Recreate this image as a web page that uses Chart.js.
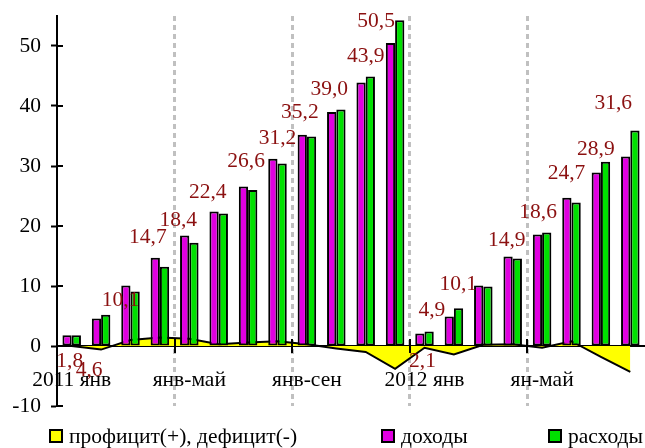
<!DOCTYPE html>
<html><head><meta charset="utf-8">
<script src="https://cdn.jsdelivr.net/npm/chart.js@4"></script>
<style>html,body{margin:0;padding:0;background:#fff;}</style>
</head><body>
<canvas id="c" width="645" height="448"></canvas>
<script>
// ---- data ----
const categories = ['2011 янв','янв-фев','янв-мар','янв-апр','янв-май','янв-июн','янв-июл','янв-авг','янв-сен','янв-окт','янв-ноя','янв-дек',
                    '2012 янв','янв-фев','янв-мар','янв-апр','ян-май','янв-июн','янв-июл','янв-авг'];
const income   = [1.8,4.6,10.1,14.7,18.4,22.4,26.6,31.2,35.2,39.0,43.9,50.5,2.1,4.9,10.1,14.9,18.6,24.7,28.9,31.6];
const expenses = [1.8,5.2,9.1,13.2,17.2,22.1,26.0,30.4,34.9,39.4,44.9,54.3,2.4,6.3,9.9,14.6,18.9,23.9,30.7,35.9];
const balance  = [0.0,-0.6,1.0,1.4,1.2,0.3,0.6,0.8,0.3,-0.4,-1.0,-3.8,-0.3,-1.4,0.2,0.3,-0.3,0.8,-1.8,-4.3];
const incomeLabels = ['1,8','4,6','10,1','14,7','18,4','22,4','26,6','31,2','35,2','39,0','43,9','50,5','2,1','4,9','10,1','14,9','18,6','24,7','28,9','31,6'];
const yTicks = [-10,0,10,20,30,40,50];
const seriesNames = ['профицит(+), дефицит(-)','доходы','расходы'];

// ---- styling / label nudges (pixels) ----
const labelNudge = [[-2,26],[-12,52],[-10,15],[-12,-20],[-11,-15],[-11,-19],[-2,-25],[0,-20],[-7,-22],[-7,-23],[0,-26],[-19,-22],
                    [-2,28],[-22,-6],[-25,-1],[-6,-16],[-4,-22],[-5,-24],[-5,-23],[-17,-53]];
const FONT = {family:'"Liberation Serif", "Times New Roman", serif', size:21.5};
const COLORS = {bal:'#ffff00', inc:'#e000e0', exp:'#00e000', label:'#8b1010'};

const extras = {
  id:'extras',
  afterDraw(chart){
    const ctx = chart.ctx, xs = chart.scales.x, ys = chart.scales.y;
    const zeroY = ys.getPixelForValue(0);
    ctx.save();
    ctx.strokeStyle = '#000'; ctx.lineWidth = 2;
    // inner half of y ticks
    yTicks.forEach(v => {
      const y = Math.round(ys.getPixelForValue(v));
      ctx.beginPath(); ctx.moveTo(ys.right, y); ctx.lineTo(ys.right + 6, y); ctx.stroke();
    });
    // x crossing ticks at every 4th category boundary
    for (let i = 4; i < categories.length; i += 4) {
      const x = Math.round((xs.getPixelForValue(i - 1) + xs.getPixelForValue(i)) / 2);
      ctx.beginPath(); ctx.moveTo(x, zeroY - 7); ctx.lineTo(x, zeroY + 7); ctx.stroke();
    }
    // data labels
    ctx.font = FONT.size + 'px ' + FONT.family;
    ctx.fillStyle = COLORS.label; ctx.textAlign = 'center'; ctx.textBaseline = 'middle';
    income.forEach((v, i) => {
      const x = xs.getPixelForValue(i) + labelNudge[i][0];
      const y = ys.getPixelForValue(v) + labelNudge[i][1];
      ctx.fillText(incomeLabels[i], x, y);
    });
    // legend
    const items = [[50, COLORS.bal], [382, COLORS.inc], [549, COLORS.exp]];
    ctx.textAlign = 'left';
    items.forEach((it, k) => {
      ctx.fillStyle = it[1]; ctx.fillRect(it[0], 430, 12, 12);
      ctx.strokeStyle = '#000'; ctx.lineWidth = 2; ctx.strokeRect(it[0], 430, 12, 12);
      ctx.fillStyle = '#000';
      ctx.fillText(seriesNames[k], it[0] + 19, 437);
    });
    ctx.restore();
  }
};

new Chart(document.getElementById('c'), {
  data: {
    labels: categories,
    datasets: [
      {type:'line', label:seriesNames[0], data:balance, order:3, fill:'origin', backgroundColor:COLORS.bal,
       borderColor:'#000', borderWidth:2, pointRadius:0, tension:0},
      {type:'bar', label:seriesNames[1], data:income, order:1, backgroundColor:COLORS.inc, borderColor:'#000',
       borderWidth:2, borderSkipped:false, categoryPercentage:0.63, barPercentage:1.0},
      {type:'bar', label:seriesNames[2], data:expenses, order:2, backgroundColor:COLORS.exp, borderColor:'#000',
       borderWidth:2, borderSkipped:false, categoryPercentage:0.63, barPercentage:1.0}
    ]
  },
  options: {
    responsive:false, devicePixelRatio:1, animation:false,
    layout:{padding:{top:16, bottom:42, left:0, right:0}},
    plugins:{legend:{display:false}, tooltip:{enabled:false}},
    scales:{
      x:{type:'category', offset:true, position:{y:0}, z:1,
         grid:{offset:true, z:-1, drawOnChartArea:true, drawTicks:false, lineWidth:3,
               color: c => (c.index > 0 && c.index % 4 === 0 && c.index < categories.length) ? '#c0c0c0' : 'rgba(0,0,0,0)'},
         border:{display:true, color:'#000', width:2, dash:[5,4]},
         ticks:{autoSkip:false, maxRotation:0, font:FONT, color:'#000', padding:21,
                callback:(v, i) => i % 4 === 0 ? categories[i] : ''},
         afterFit: s => { s.paddingTop = 0; s.paddingBottom = 0; s.paddingLeft = 0; s.paddingRight = 0; }},
      y:{min:-10, max:55,
         afterBuildTicks: s => { s.ticks = yTicks.map(v => ({value:v})); },
         afterFit: s => { s.width = 57; s.paddingTop = 0; s.paddingBottom = 0; },
         grid:{drawOnChartArea:false, drawTicks:true, tickLength:6, tickWidth:2, tickColor:'#000'},
         border:{display:true, color:'#000', width:2},
         ticks:{font:FONT, color:'#000', padding:10}}
    }
  },
  plugins:[extras]
});
</script>
</body></html>
